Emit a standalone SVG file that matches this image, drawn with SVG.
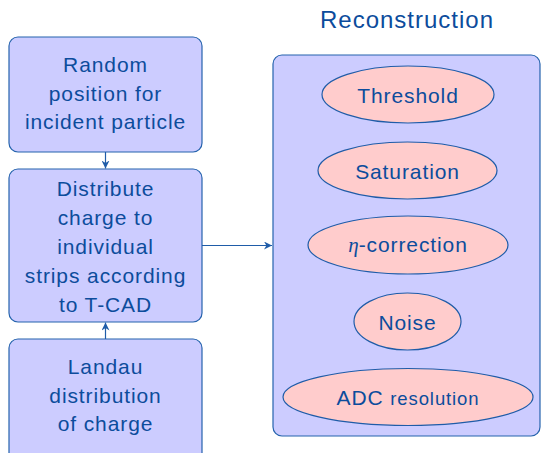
<svg xmlns="http://www.w3.org/2000/svg" width="541" height="453" viewBox="0 0 541 453">
<defs>
<style>
.box{fill:#ccccff;stroke:#2563ad;stroke-width:1.2}
.ell{fill:#ffcccc;stroke:#1f5ca8;stroke-width:1.2}
.t{font-family:"Liberation Sans",Arial,sans-serif;font-size:21px;fill:#0c4c9c;text-anchor:middle;letter-spacing:0.9px}
.title{font-size:24px;letter-spacing:1px}
.con{stroke:#1f5ca8;stroke-width:1.2;fill:none}
</style>
<marker id="arr" viewBox="0 0 10 10" refX="10" refY="5" markerWidth="8" markerHeight="8" markerUnits="userSpaceOnUse" orient="auto">
<path d="M0,0 L10,5 L0,10 L3,5 z" fill="#1f5ca8"/>
</marker>
</defs>
<rect width="541" height="453" fill="#ffffff"/>
<text class="t title" x="407" y="28">Reconstruction</text>
<g id="random">
<rect class="box" x="9" y="37" width="193" height="115" rx="9"/>
<text class="t" x="105.5" y="72">Random</text>
<text class="t" x="105.5" y="101">position for</text>
<text class="t" x="105.5" y="129">incident particle</text>
</g>
<g id="distribute">
<rect class="box" x="9" y="169" width="193" height="153" rx="9"/>
<text class="t" x="105.5" y="196">Distribute</text>
<text class="t" x="105.5" y="225">charge to</text>
<text class="t" x="105.5" y="254">individual</text>
<text class="t" x="105.5" y="283">strips according</text>
<text class="t" x="105.5" y="312">to T-CAD</text>
</g>
<g id="landau">
<rect class="box" x="9" y="339" width="193" height="125" rx="9"/>
<text class="t" x="105.5" y="374">Landau</text>
<text class="t" x="105.5" y="403">distribution</text>
<text class="t" x="105.5" y="431">of charge</text>
</g>
<g id="reconstruction">
<rect class="box" x="273" y="55" width="267" height="381" rx="9"/>
</g>
<g id="threshold">
<ellipse class="ell" cx="408" cy="94.5" rx="86" ry="28.5"/>
<text class="t" x="408" y="103">Threshold</text>
</g>
<g id="saturation">
<ellipse class="ell" cx="407.5" cy="170.5" rx="89.5" ry="28.5"/>
<text class="t" x="407.5" y="179">Saturation</text>
</g>
<g id="eta">
<ellipse class="ell" cx="408" cy="245" rx="100" ry="29"/>
<text class="t" x="408" y="252"><tspan font-family="Liberation Serif,serif" font-style="italic" letter-spacing="0">η</tspan>-correction</text>
</g>
<g id="noise">
<ellipse class="ell" cx="407.5" cy="321.5" rx="53.5" ry="28.5"/>
<text class="t" x="407.5" y="329.5">Noise</text>
</g>
<g id="adc">
<ellipse class="ell" cx="408" cy="397" rx="125" ry="28.5"/>
<text class="t" x="408" y="405">ADC <tspan font-size="18.5px">resolution</tspan></text>
</g>
<g id="connectors">
<line class="con" x1="105.5" y1="152" x2="105.5" y2="168.5" marker-end="url(#arr)"/>
<line class="con" x1="105.5" y1="339" x2="105.5" y2="322.5" marker-end="url(#arr)"/>
<line class="con" x1="202" y1="245.5" x2="272" y2="245.5" marker-end="url(#arr)"/>
</g>
</svg>
